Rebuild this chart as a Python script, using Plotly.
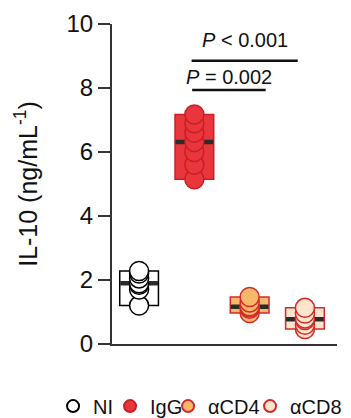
import plotly.graph_objects as go

groups = ["NI", "IgG", "αCD4", "αCD8"]
ni_vals = [1.2, 1.7, 1.85, 1.9, 2.05, 2.2, 2.28]
igg_vals = [5.15, 5.6, 6.0, 6.31, 6.6, 6.9, 7.17]
cd4_vals = [0.97, 1.1, 1.15, 1.18, 1.3, 1.47]
cd8_vals = [0.47, 0.6, 0.75, 0.8, 0.95, 1.13]
values = [ni_vals, igg_vals, cd4_vals, cd8_vals]

fills = ["#FFFFFF", "#E8363C", "#F7B86A", "#FDE4CC"]
edges = ["#000000", "#C81E28", "#D32A2C", "#D32A2C"]
legend_widths = [12, 13, 37, 55]

# significance brackets
bracket_x0 = [0.96, 0.95]
bracket_x1 = [2.29, 2.87]
bracket_y = [7.94, 8.85]
bracket_labels = ["<i>P</i> = 0.002", "<i>P</i> < 0.001"]
label_x = [1.62, 1.91]
label_y = [8.35, 9.5]

y_ticks = [0, 2, 4, 6, 8, 10]

FONT = "Liberation Sans, Arial, Helvetica, sans-serif"

def median(v):
    s = sorted(v)
    n = len(s)
    return s[n // 2] if n % 2 else (s[n // 2 - 1] + s[n // 2]) / 2

fig = go.Figure()
for i, g in enumerate(groups):
    v = values[i]
    lo, hi = min(v), max(v)
    fig.add_trace(go.Bar(x=[i], y=[hi - lo], base=[lo], width=0.7,
                         marker=dict(color=fills[i], line=dict(color=edges[i], width=1.5)),
                         showlegend=False, hoverinfo="skip"))
for i, g in enumerate(groups):
    fig.add_trace(go.Scatter(x=[i], y=[median(values[i])], mode="markers",
                             marker=dict(symbol="line-ew", size=27,
                                         line=dict(color="#2B2B2B", width=4.5)),
                             showlegend=False, hoverinfo="skip"))
for i, g in enumerate(groups):
    v = values[i]
    fig.add_trace(go.Scatter(x=[i] * len(v), y=v, mode="markers", name=g,
                             legendwidth=legend_widths[i],
                             marker=dict(size=19, color=fills[i],
                                         line=dict(color=edges[i], width=1.5))))

for x0, x1, y in zip(bracket_x0, bracket_x1, bracket_y):
    fig.add_shape(type="line", x0=x0, x1=x1, y0=y, y1=y, xref="x", yref="y",
                  line=dict(color="#111111", width=2.5))
for t, lx, ly in zip(bracket_labels, label_x, label_y):
    fig.add_annotation(x=lx, y=ly, text=t, showarrow=False, xref="x", yref="y",
                       font=dict(family=FONT, size=20, color="#111111"))

fig.update_layout(
    width=351, height=418,
    margin=dict(l=112, r=14, t=24, b=74, autoexpand=False),
    plot_bgcolor="white", paper_bgcolor="white",
    barmode="overlay",
    font=dict(family=FONT, color="#111111"),
    showlegend=True,
    legend=dict(orientation="h", x=-0.262, xanchor="left", y=-0.194, yanchor="middle",
                font=dict(family=FONT, size=20, color="#111111"),
                itemsizing="constant", traceorder="normal",
                bgcolor="rgba(0,0,0,0)"),
    xaxis=dict(range=[-0.49, 3.58], showticklabels=False, ticks="",
               showline=True, linecolor="#333333", linewidth=2, showgrid=False,
               zeroline=False, fixedrange=True, automargin=False),
    yaxis=dict(range=[0, 10], tickvals=y_ticks, ticks="outside", ticklen=12,
               tickwidth=2, tickcolor="#333333", showline=True, linecolor="#333333",
               linewidth=2, showgrid=False, zeroline=False, automargin=False,
               tickfont=dict(family=FONT, size=24, color="#111111"),
               title=dict(text="IL-10 (ng/mL<sup>-1</sup>)", standoff=22,
                          font=dict(family=FONT, size=25, color="#111111"))),
)

fig.write_html("out.html", config={"displayModeBar": False},
               post_script="document.body.style.margin='0px';document.body.style.overflow='hidden';")
